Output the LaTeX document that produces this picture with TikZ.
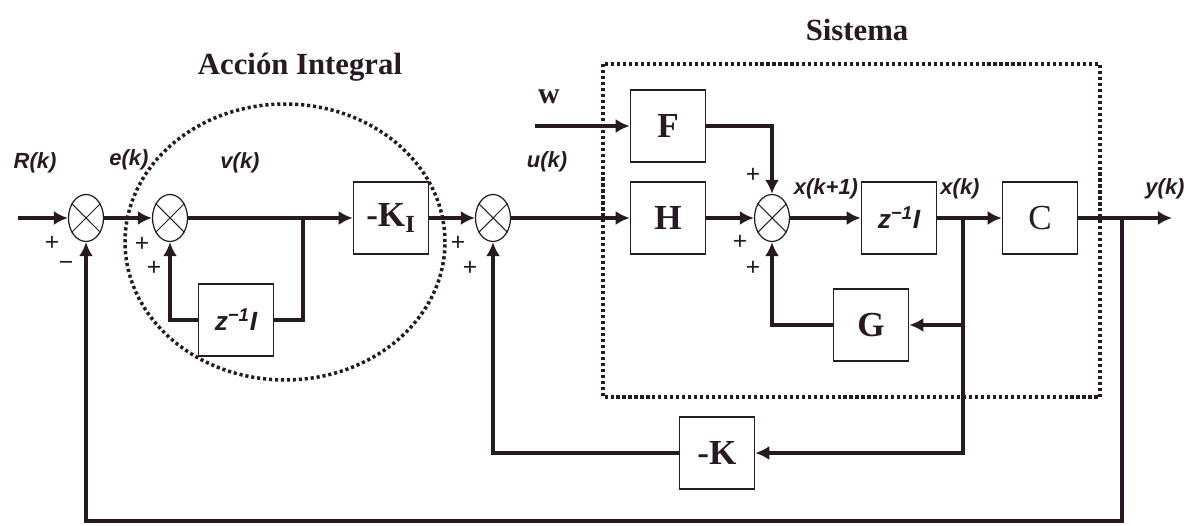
\documentclass[tikz,border=0pt]{standalone}
\usepackage{fontspec}
\setmainfont{Liberation Serif}
\setsansfont{Liberation Sans}
\usetikzlibrary{positioning,arrows.meta,shapes.geometric}
\definecolor{ink}{RGB}{40,26,34}
\tikzset{
  blk/.style={draw=ink,line width=0.9pt,minimum width=1.5cm,minimum height=1.44cm,inner sep=0pt,text=ink,font=\bfseries\fontsize{20}{22}\selectfont},
  dly/.style={blk,font=\sffamily\bfseries\itshape\fontsize{15}{17}\selectfont},
  sumnode/.style={draw=ink,ellipse,line width=0.7pt,minimum width=0.7cm,minimum height=0.94cm,inner sep=0pt},
  sig/.style={font=\sffamily\bfseries\itshape\fontsize{12.5}{14}\selectfont,text=ink},
  sgn/.style={font=\sffamily\fontsize{14}{14}\selectfont,text=ink,inner sep=0pt},
  ttl/.style={font=\bfseries\fontsize{17.5}{20}\selectfont,text=ink},
  wire/.style={draw=ink,line width=2.2pt},
  arr/.style={wire,-{Latex[length=8pt,width=8pt]}},
  dots/.style={draw=ink,line width=2pt,dash pattern=on 1.8pt off 1.6pt}
}
\begin{document}
\begin{tikzpicture}[x=0.02cm,y=-0.02cm]
  \useasboundingbox (0,0) rectangle (1189,526);
  \node[sumnode] (s1) at (86,218) {};
  \node[sumnode] (s2) at (170,218) {};
  \node[dly] (zi1) at (236,320) {z\textsuperscript{−1}I};
  \node[blk] (ki) at (391,218) {-K\textsubscript{I}};
  \node[sumnode] (s3) at (493,218) {};
  \node[blk] (f) at (668,126) {F};
  \node[blk] (h) at (668,218) {H};
  \node[sumnode] (s4) at (772,218) {};
  \node[dly] (zi2) at (899,218) {z\textsuperscript{−1}I};
  \node[blk,font=\fontsize{20}{22}\selectfont] (c) at (1040,218) {C};
  \node[blk] (g) at (871,325) {G};
  \node[blk] (k) at (717,453) {-K};
  \foreach \s in {s1,s2,s3,s4}
    \draw[ink,line width=0.6pt] (\s.45) -- (\s.225) (\s.135) -- (\s.315);
  \coordinate (r) at (18,218);
  \coordinate (wi) at (535,126);
  \coordinate (j1) at (303,218);
  \coordinate (j2) at (963,218);
  \coordinate (j3) at (1122,218);
  \coordinate (yo) at (1172,218);
  \coordinate (b) at (1122,521);
  % lazo integral
  \draw[arr] (r) -- (s1);
  \draw[arr] (s1) -- (s2);
  \draw[arr] (s2) -- (ki);
  \draw[wire] (j1) |- (zi1.east);
  \draw[arr] (zi1.west) -| (s2.south);
  \draw[arr] (ki) -- (s3);
  % sistema
  \draw[arr] (s3) -- (h);
  \draw[arr] (wi) -- (f);
  \draw[arr] (f.east) -| (s4.north);
  \draw[arr] (h) -- (s4);
  \draw[arr] (s4) -- (zi2);
  \draw[arr] (zi2) -- (c);
  \draw[arr] (j2 |- g.east) -- (g.east);
  \draw[arr] (g.west) -| (s4.south);
  \draw[arr] (c) -- (yo);
  % realimentaciones
  \draw[arr] (j2) |- (k.east);
  \draw[arr] (k.west) -| (s3.south);
  \draw[arr] (j3) -- (b) -| (s1.south);
  \draw[dots] (603,64) rectangle (1100,397);
  \draw[dots] (285,242) ellipse [x radius=3.2cm,y radius=2.76cm];
  % textos
  \node[sig] (lr) at (35,163) {R(k)};
  \node[sig] (le) at (129,160) {e(k)};
  \node[sig] (lv) at (240,163) {v(k)};
  \node[sig] (lu) at (547,162) {u(k)};
  \node[text=ink,font=\bfseries\fontsize{17}{19}\selectfont] (lw) at (549,97) {w};
  \node[sig] (lx1) at (826,189) {x(k+1)};
  \node[sig] (lx) at (960,189) {x(k)};
  \node[sig] (ly) at (1165,189) {y(k)};
  \node[ttl] (tai) at (300,67) {Acción Integral};
  \node[ttl] (tsis) at (857,30) {Sistema};
  \node[sgn] (p1) at (52,243) {+};
  \node[sgn] (m1) at (66,266) {−};
  \node[sgn] (p2a) at (142,244) {+};
  \node[sgn] (p2b) at (154,268) {+};
  \node[sgn] (p3a) at (458,243) {+};
  \node[sgn] (p3b) at (470,268) {+};
  \node[sgn] (p4a) at (753,175) {+};
  \node[sgn] (p4b) at (740,242) {+};
  \node[sgn] (p4c) at (753,268) {+};
\end{tikzpicture}
\end{document}
